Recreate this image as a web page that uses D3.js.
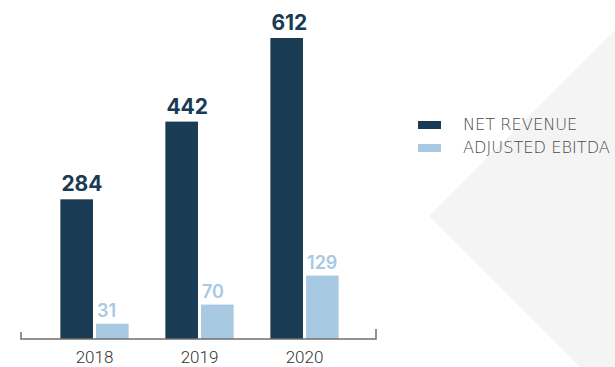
<!DOCTYPE html>
<html>
<head>
<meta charset="utf-8">
<script src="https://cdn.jsdelivr.net/npm/d3@7"></script>
<style>
  html, body { margin: 0; padding: 0; background: #fff; }
  svg { display: block; }
</style>
</head>
<body>
<svg id="chart" width="615" height="367"></svg>
<script>
// data
var years = ["2018", "2019", "2020"];
var seriesNames = ["NET REVENUE", "ADJUSTED EBITDA"];
var netRevenue = [284, 442, 612];
var adjustedEbitda = [31, 70, 129];
var seriesColors = ["#193b53", "#a7c9e1"];

var svg = d3.select("#chart");
var W = 615, H = 367;

// light grey diamond in the background
svg.append("polygon")
  .attr("points", [[429, 216], [620, 25], [620, 367], [580, 367]].map(function (p) { return p.join(","); }).join(" "))
  .attr("fill", "#f4f4f4");

var baseY = 339;
var x0 = d3.scaleBand().domain(years).range([42, 357]).paddingInner(0.35).paddingOuter(0.175);
var x1 = d3.scaleBand().domain([0, 1]).range([0, x0.bandwidth()]).paddingInner(3 / 35);
var y = d3.scaleLinear().domain([0, 612]).range([baseY, 38]);

var rows = years.map(function (yr, i) {
  return { year: yr, values: [netRevenue[i], adjustedEbitda[i]] };
});

var groups = svg.selectAll("g.year")
  .data(rows).enter()
  .append("g")
  .attr("class", "year")
  .attr("transform", function (d) { return "translate(" + x0(d.year) + ",0)"; });

groups.selectAll("rect")
  .data(function (d) { return d.values.map(function (v, k) { return { k: k, v: v }; }); })
  .enter()
  .append("rect")
  .attr("x", function (d) { return x1(d.k); })
  .attr("y", function (d) { return y(d.v); })
  .attr("width", x1.bandwidth())
  .attr("height", function (d) { return baseY - y(d.v); })
  .attr("fill", function (d) { return seriesColors[d.k]; });

groups.selectAll("text.val")
  .data(function (d) { return d.values.map(function (v, k) { return { k: k, v: v }; }); })
  .enter()
  .append("text")
  .attr("class", "val")
  .attr("x", function (d) { return x1(d.k) + 1; })
  .attr("y", function (d) { return y(d.v) - (d.k == 0 ? 8 : 7); })
  .attr("fill", function (d) { return seriesColors[d.k]; })
  .style("font-family", "Inter, 'Noto Sans', sans-serif")
  .style("font-weight", function (d) { return d.k == 0 ? 700 : 600; })
  .style("font-size", function (d) { return d.k == 0 ? "21px" : "18px"; })
  .text(function (d) { return d.v; });

// axis: line with small upward ticks at both ends
var axisL = x0.range()[0] - 21, axisR = x0.range()[1] + 19;
svg.append("path")
  .attr("d", "M" + axisL + "," + (baseY - 7) + "V" + baseY + "H" + axisR + "V" + (baseY - 10))
  .attr("fill", "none")
  .attr("stroke", "#6f6f6f")
  .attr("stroke-width", 1.5);

var xAxis = d3.axisBottom(x0).tickSize(0).tickPadding(0);
var gx = svg.append("g")
  .attr("transform", "translate(0," + baseY + ")")
  .call(xAxis);
gx.select(".domain").remove();
gx.selectAll("text")
  .attr("dy", null)
  .attr("y", 24)
  .attr("fill", "#333")
  .style("font-family", "Roboto, sans-serif")
  .style("font-weight", 300)
  .style("font-size", "17px");

// legend
var legend = svg.selectAll("g.legend")
  .data(seriesNames).enter()
  .append("g")
  .attr("class", "legend")
  .attr("transform", function (d, i) { return "translate(418," + (121 + i * 23) + ")"; });

legend.append("rect")
  .attr("width", 23)
  .attr("height", 8)
  .attr("fill", function (d, i) { return seriesColors[i]; });

legend.append("text")
  .attr("x", 45)
  .attr("y", 8.5)
  .attr("fill", "#4a4a4a")
  .style("font-family", "'DejaVu Sans', sans-serif")
  .style("font-weight", 300)
  .style("font-size", "16.2px")
  .text(function (d) { return d; });
</script>
</body>
</html>
